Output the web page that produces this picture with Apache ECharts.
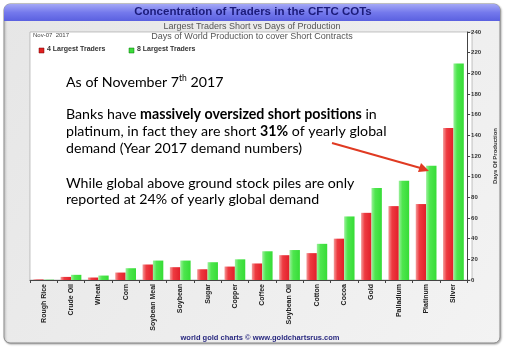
<!DOCTYPE html>
<html><head><meta charset="utf-8">
<script src="https://cdn.jsdelivr.net/npm/echarts@6/dist/echarts.min.js"></script>
<style>html,body{margin:0;padding:0;background:#fff}#c{width:506px;height:349px}</style>
</head><body><div id="c"></div>
<script>
const categories = ['Rough Rice','Crude Oil','Wheat','Corn','Soybean Meal','Soybean','Sugar','Copper','Coffee','Soybean Oil','Cotton','Cocoa','Gold','Palladium','Platinum','Silver'];
const largest4 = [0.5, 3, 2.4, 7.2, 15, 12.4, 10.4, 13, 16, 24, 26, 40, 65, 71.5, 73.5, 147];
const largest8 = [0.3, 5, 4.3, 11.4, 18.8, 18.8, 17.2, 20, 27.8, 29, 35, 61.5, 89, 96, 110.5, 209.5];
const yTicks = {min: 0, max: 240, interval: 20};

const chart = echarts.init(document.getElementById('c'), null, {renderer: 'canvas'});
const redGrad = new echarts.graphic.LinearGradient(0,0,1,0,[{offset:0,color:'#f39a9a'},{offset:0.35,color:'#ee3a40'},{offset:1,color:'#e21f2a'}]);
const greenGrad = new echarts.graphic.LinearGradient(0,0,1,0,[{offset:0,color:'#9af09a'},{offset:0.35,color:'#4ee64e'},{offset:1,color:'#36dc36'}]);
const rich = {
  n:{fontFamily:'Lato',fontSize:14.2,color:'#0a0a0a'},
  b:{fontFamily:'Lato',fontSize:14.2,fontWeight:'bold',color:'#0a0a0a'},
  s:{fontFamily:'Lato',fontSize:8.5,color:'#0a0a0a',verticalAlign:'top',lineHeight:17}
};
chart.setOption({
  animation:false,
  graphic:[
    {type:'rect', z:-10, shape:{x:4,y:4,width:496,height:339,r:6}, style:{fill:new echarts.graphic.LinearGradient(0,0,1,1,[{offset:0,color:'#e6e6e6'},{offset:1,color:'#f3f3f3'}]), stroke:'#8a8a8a', lineWidth:1, shadowBlur:2, shadowColor:'rgba(0,0,0,0.3)', shadowOffsetX:1, shadowOffsetY:1}},
    {type:'rect', z:-9, shape:{x:4,y:4,width:496,height:17,r:[6,6,0,0]}, style:{fill:new echarts.graphic.LinearGradient(0,0,0,1,[{offset:0,color:'#a4a8f6'},{offset:0.5,color:'#7479ec'},{offset:1,color:'#5a60e0'}])}},
    {type:'rect', z:-8, shape:{x:30,y:32,width:442,height:248}, style:{fill:'#ffffff', stroke:'#888', lineWidth:0.5}},
    {type:'text', left:'center', top:6, style:{text:'Concentration of Traders in the CFTC COTs', font:'bold 11.5px Arial', fill:'#1b1b7a'}},
    {type:'text', x:252, y:22, style:{text:'Largest Traders Short vs Days of Production', font:'9px Arial', fill:'#555', align:'center'}},
    {type:'text', x:252, y:32, style:{text:'Days of World Production to cover Short Contracts', font:'9px Arial', fill:'#555', align:'center'}},
    {type:'text', x:33, y:32, style:{text:'Nov-07  2017', font:'6px Arial', fill:'#444'}},
    {type:'rect', shape:{x:39,y:48,width:5,height:5}, style:{fill:'#e02020', stroke:'#700', lineWidth:0.5}},
    {type:'text', x:47, y:46, style:{text:'4 Largest Traders', font:'bold 7px Arial', fill:'#333'}},
    {type:'rect', shape:{x:129,y:48,width:5,height:5}, style:{fill:'#3cdc3c', stroke:'#070', lineWidth:0.5}},
    {type:'text', x:137, y:46, style:{text:'8 Largest Traders', font:'bold 7px Arial', fill:'#333'}},
    {type:'text', x:260, y:334, style:{text:'world gold charts \u00a9 www.goldchartsrus.com', font:'bold 7.5px Arial', fill:'#2a2a80', align:'center'}},
    {type:'text', z:50, x:66, y:74, style:{rich:rich, text:'{n|As of November 7}{s|th}{n| 2017}'}},
    {type:'text', z:50, x:66, y:107, style:{rich:rich, text:'{n|Banks have }{b|massively oversized short positions}{n| in}'}},
    {type:'text', z:50, x:66, y:124, style:{rich:rich, text:'{n|platinum, in fact they are short }{b|31%}{n| of yearly global}'}},
    {type:'text', z:50, x:66, y:141, style:{rich:rich, text:'{n|demand (Year 2017 demand numbers)}'}},
    {type:'text', z:50, x:66, y:176, style:{rich:rich, text:'{n|While global above ground stock piles are only}'}},
    {type:'text', z:50, x:66, y:192, style:{rich:rich, text:'{n|reported at 24% of yearly global demand}'}},
    {type:'line', z:50, shape:{x1:332,y1:143,x2:424,y2:169}, style:{stroke:'#e03a22', lineWidth:2}},
    {type:'polygon', z:50, shape:{points:[[429,171],[418,172],[421,163]]}, style:{fill:'#e03a22'}}
  ],
  grid:{left:30, right:34, top:32, bottom:69, containLabel:false},
  xAxis:{type:'category', data:categories,
    axisLine:{lineStyle:{color:'#444', width:1}},
    axisTick:{show:true, length:3, lineStyle:{color:'#444'}},
    axisLabel:{rotate:90, interval:0, fontFamily:'Arial', fontWeight:'bold', fontSize:7, color:'#222', margin:4}},
  yAxis:{type:'value', position:'right', min:yTicks.min, max:yTicks.max, interval:yTicks.interval,
    name:'Days Of Production', nameLocation:'middle', nameGap:18, nameRotate:90,
    nameTextStyle:{fontFamily:'Arial', fontWeight:'bold', fontSize:6, color:'#333'},
    axisLine:{show:true, lineStyle:{color:'#444', width:1}},
    axisTick:{show:true, inside:false, length:3, lineStyle:{color:'#444'}},
    splitLine:{show:false},
    axisLabel:{fontFamily:'Arial', fontWeight:'bold', fontSize:6, color:'#333', margin:4}},
  series:[
    {name:'4 Largest Traders', type:'bar', data:largest4, barGap:'0%', barCategoryGap:'24%', itemStyle:{color:redGrad}},
    {name:'8 Largest Traders', type:'bar', data:largest8, itemStyle:{color:greenGrad}}
  ]
});
</script></body></html>
